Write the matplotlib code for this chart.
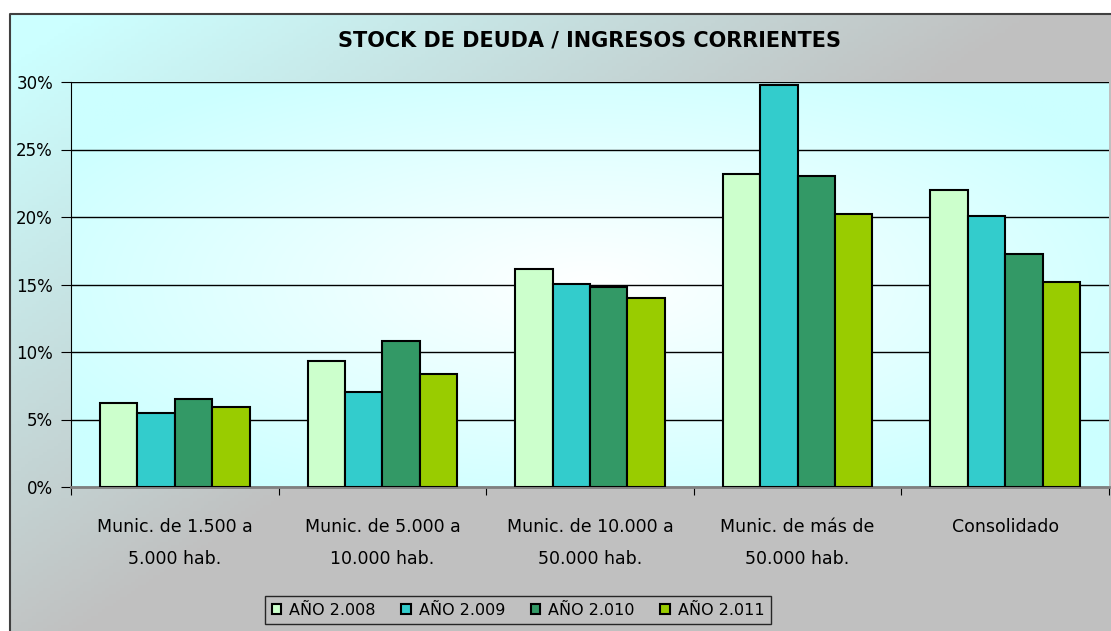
import matplotlib.pyplot as plt
import matplotlib as mpl
import numpy as np

categories = ["Munic. de 1.500 a\n5.000 hab.", "Munic. de 5.000 a\n10.000 hab.",
              "Munic. de 10.000 a\n50.000 hab.", "Munic. de más de\n50.000 hab.",
              "Consolidado"]
series_names = ["AÑO 2.008", "AÑO 2.009", "AÑO 2.010", "AÑO 2.011"]
y2008 = [6.2, 9.35, 16.15, 23.2, 22.0]
y2009 = [5.45, 7.05, 15.05, 29.75, 20.1]
y2010 = [6.5, 10.85, 14.8, 23.05, 17.25]
y2011 = [5.95, 8.4, 14.0, 20.25, 15.2]
colors = ["#CCFFCC", "#33CCCC", "#339966", "#99CC00"]

plt.rcParams['font.family'] = ['DejaVu Sans']

W, H = 1111, 631
fig = plt.figure(figsize=(W / 100, H / 100), dpi=100)
fig.patch.set_facecolor("white")

# figure background gradient (cyan top-left to grey right / bottom)
bg = fig.add_axes([10 / W, 0, 1 - 10 / W, 1 - 14 / H])
bg.set_axis_off()
gx, gy = np.meshgrid(np.linspace(0, 1, 300), np.linspace(0, 1, 200))
t = np.clip(1.15 * gx + 1.0 * gy - 0.08, 0, 1)
c0 = np.array(mpl.colors.to_rgb("#CCFFFF"))
c1 = np.array(mpl.colors.to_rgb("#C0C0C0"))
img = c0[None, None, :] * (1 - t[..., None]) + c1[None, None, :] * t[..., None]
bg.imshow(img, aspect="auto", extent=[0, 1, 0, 1], origin="upper")
bg.set_xlim(0, 1)
bg.set_ylim(0, 1)
bg.plot([0, 0, 1], [0, 1, 1], color="#404040", lw=1.5, transform=bg.transAxes, clip_on=False)

ax = fig.add_axes([71 / W, 1 - 487 / H, (1109 - 71) / W, (487 - 82) / H])
ax.set_facecolor("none")

# plot area gradient (white center, light cyan edges)
px, py = np.meshgrid(np.linspace(-1, 1, 300), np.linspace(-1, 1, 200))
r = np.clip(np.sqrt(px ** 2 + py ** 2) / 1.2, 0, 1)
w = np.array([1.0, 1.0, 1.0])
img2 = w[None, None, :] * (1 - r[..., None]) + c0[None, None, :] * r[..., None]
ax.imshow(img2, aspect="auto", extent=[-0.5, 4.5, 0, 30], zorder=0)

x = np.arange(len(categories))
bw = 0.18
for i, (vals, name) in enumerate(zip([y2008, y2009, y2010, y2011], series_names)):
    ax.bar(x + (i - 1.5) * bw, vals, bw, color=colors[i], edgecolor="black",
           linewidth=1.5, label=name, zorder=3)

ax.set_xlim(-0.5, 4.5)
ax.set_ylim(0, 30)
ax.set_yticks(np.arange(0, 31, 5))
ax.set_yticklabels([f"{v}%" for v in range(0, 31, 5)], fontsize=12)
ax.yaxis.grid(True, color="black", lw=1)
ax.set_axisbelow(True)

ax.set_xticks(np.arange(-0.5, 5, 1))
ax.set_xticklabels([])
ax.set_xticks(x, minor=True)
ax.set_xticklabels(categories, minor=True, fontsize=12.5, linespacing=2.0)
ax.tick_params(axis="x", which="minor", length=0, pad=22)
ax.tick_params(axis="x", which="major", length=6, color="black")
ax.tick_params(axis="y", length=7, pad=6)

for s in ["top", "right"]:
    ax.spines[s].set_visible(False)
ax.spines["left"].set_color("black")
ax.spines["bottom"].set_color("#808080")
ax.spines["bottom"].set_linewidth(2)

fig.text(590 / W, 1 - 40 / H, "STOCK DE DEUDA / INGRESOS CORRIENTES",
         ha="center", va="center", fontsize=15, fontweight="bold")

leg = fig.legend(loc="center", bbox_to_anchor=(518 / W, 1 - 610 / H), ncol=4,
                 fontsize=11.5, frameon=True, fancybox=False, handlelength=0.6,
                 handleheight=0.6, handletextpad=0.5, columnspacing=1.6,
                 borderpad=0.4)
leg.get_frame().set_edgecolor("black")
leg.get_frame().set_facecolor("none")
leg.get_frame().set_linewidth(1)

fig.savefig("out.png", dpi=100)
